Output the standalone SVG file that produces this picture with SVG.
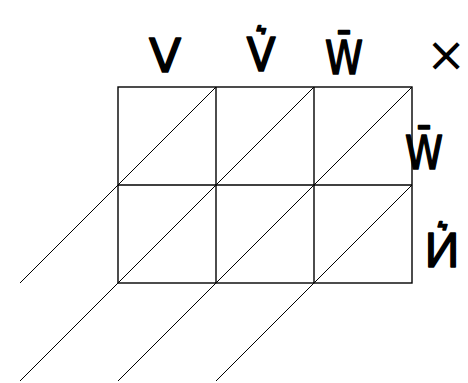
<svg xmlns="http://www.w3.org/2000/svg" width="468" height="383" viewBox="0 0 468 383">
<style>
.grid{fill:none;stroke:#000;stroke-width:1.4}
.diag{stroke:#000;stroke-width:1;fill:none}
.lbl{font-family:"DejaVu Sans","Noto Sans",sans-serif;font-size:47px;fill:#000;stroke:#000;stroke-width:1.6;stroke-linejoin:round;text-anchor:middle}
.times{font-family:"DejaVu Sans",sans-serif;font-size:48px;fill:#000;text-anchor:middle}
</style>
<rect width="468" height="383" fill="#fff"/>
<g id="grid">
<rect class="grid" x="118" y="87" width="294" height="196"/>
<line class="grid" x1="118" y1="185" x2="412" y2="185"/>
<line class="grid" x1="216" y1="87" x2="216" y2="283"/>
<line class="grid" x1="314" y1="87" x2="314" y2="283"/>
</g>
<g id="diagonals">
<line class="diag" x1="20" y1="283" x2="216" y2="87"/>
<line class="diag" x1="20" y1="381" x2="314" y2="87"/>
<line class="diag" x1="118" y1="381" x2="412" y2="87"/>
<line class="diag" x1="216" y1="381" x2="412" y2="185"/>
</g>
<g id="label-top-1"><text class="lbl" x="165" y="72">V</text></g>
<g id="label-top-2"><text class="lbl" x="261" y="71">V&#x35B;</text></g>
<g id="label-top-3"><text class="lbl" x="344" y="74" text-anchor="start" textLength="38" lengthAdjust="spacingAndGlyphs">W&#x304;</text></g>
<g id="label-times"><text class="times" x="446" y="71">×</text></g>
<g id="label-right-1"><text class="lbl" x="424" y="169" text-anchor="start" textLength="38" lengthAdjust="spacingAndGlyphs">W&#x304;</text></g>
<g id="label-right-2"><text class="lbl" x="442" y="267">&#x418;&#x35B;</text></g>
</svg>
